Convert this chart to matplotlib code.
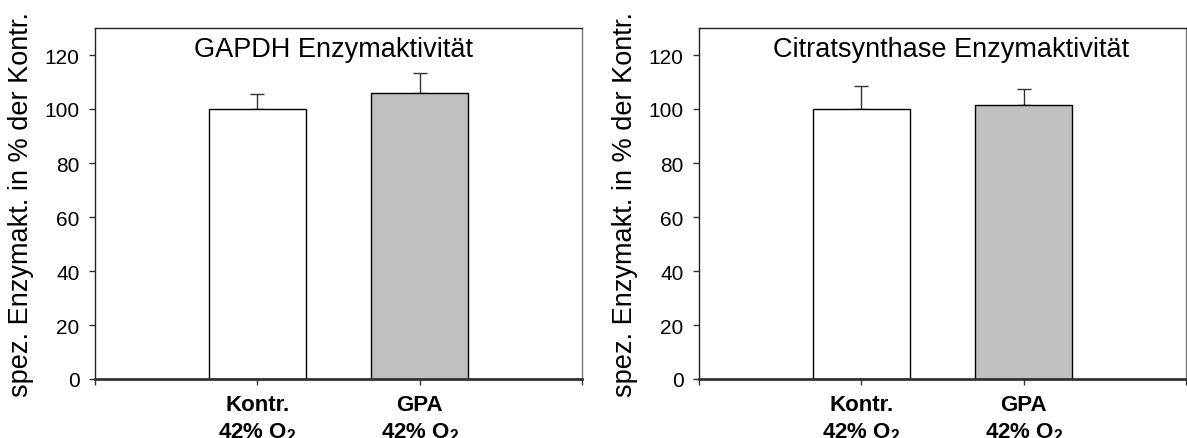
import matplotlib
matplotlib.use("Agg")
import matplotlib.pyplot as plt

plt.rcParams['font.family'] = ['Liberation Sans', 'DejaVu Sans']
plt.rcParams['mathtext.fontset'] = 'custom'
plt.rcParams['mathtext.rm'] = 'Liberation Sans'
plt.rcParams['mathtext.bf'] = 'Liberation Sans:bold'

categories = ["Kontr.\n42% O$\\mathbf{_2}$", "GPA\n42% O$\\mathbf{_2}$"]
titles = ["GAPDH Enzymaktivität", "Citratsynthase Enzymaktivität"]
gapdh_values = [100.0, 105.8]
gapdh_errors = [5.7, 7.5]
cs_values = [100.0, 101.5]
cs_errors = [8.4, 6.0]
bar_colors = ["white", "#C0C0C0"]
ylabel = "spez. Enzymakt. in % der Kontr."
yticks = [0, 20, 40, 60, 80, 100, 120]

fig = plt.figure(figsize=(11.87, 4.39), dpi=100)
W, H = 1187, 439
axes = [fig.add_axes([95 / W, 1 - 380 / H, 487 / W, 351 / H]),
        fig.add_axes([699 / W, 1 - 380 / H, 487 / W, 351 / H])]
title_x = [0.489, 0.517]

for ax, vals, errs, title, tx in zip(axes, [gapdh_values, cs_values],
                                     [gapdh_errors, cs_errors], titles, title_x):
    x = [1, 2]
    ax.bar(x, vals, width=0.6, color=bar_colors, edgecolor="black",
           linewidth=1.0, zorder=2)
    ax.errorbar(x, vals, yerr=[[0, 0], errs], fmt="none", ecolor="#333333",
                elinewidth=1.0, capsize=5, capthick=1.0, zorder=1)
    ax.set_xlim(0, 3)
    ax.set_ylim(0, 130)
    ax.set_yticks(yticks)
    ax.set_yticklabels([str(t) for t in yticks], fontsize=15)
    ax.set_xticks([0, 1, 2, 3])
    ax.set_xticklabels([""] + categories + [""], fontsize=16, fontweight="bold",
                       linespacing=1.3)
    ax.tick_params(axis="x", length=4, width=1, color="#333333", pad=7)
    ax.tick_params(axis="y", length=4, width=1, color="#333333", pad=7)
    for s in ["left", "top", "right"]:
        ax.spines[s].set_linewidth(1.0)
        ax.spines[s].set_color("#222222")
    ax.spines["right"].set_color("#777777")
    ax.spines["bottom"].set_linewidth(2.0)
    ax.spines["bottom"].set_color("#333333")
    ax.set_ylabel(ylabel, fontsize=19.5)
    ax.yaxis.set_label_coords(-0.125, 0.5)
    ax.text(tx, 0.94, title, transform=ax.transAxes, ha="center", va="center",
            fontsize=19.5)

fig.savefig("out.png", dpi=100)
